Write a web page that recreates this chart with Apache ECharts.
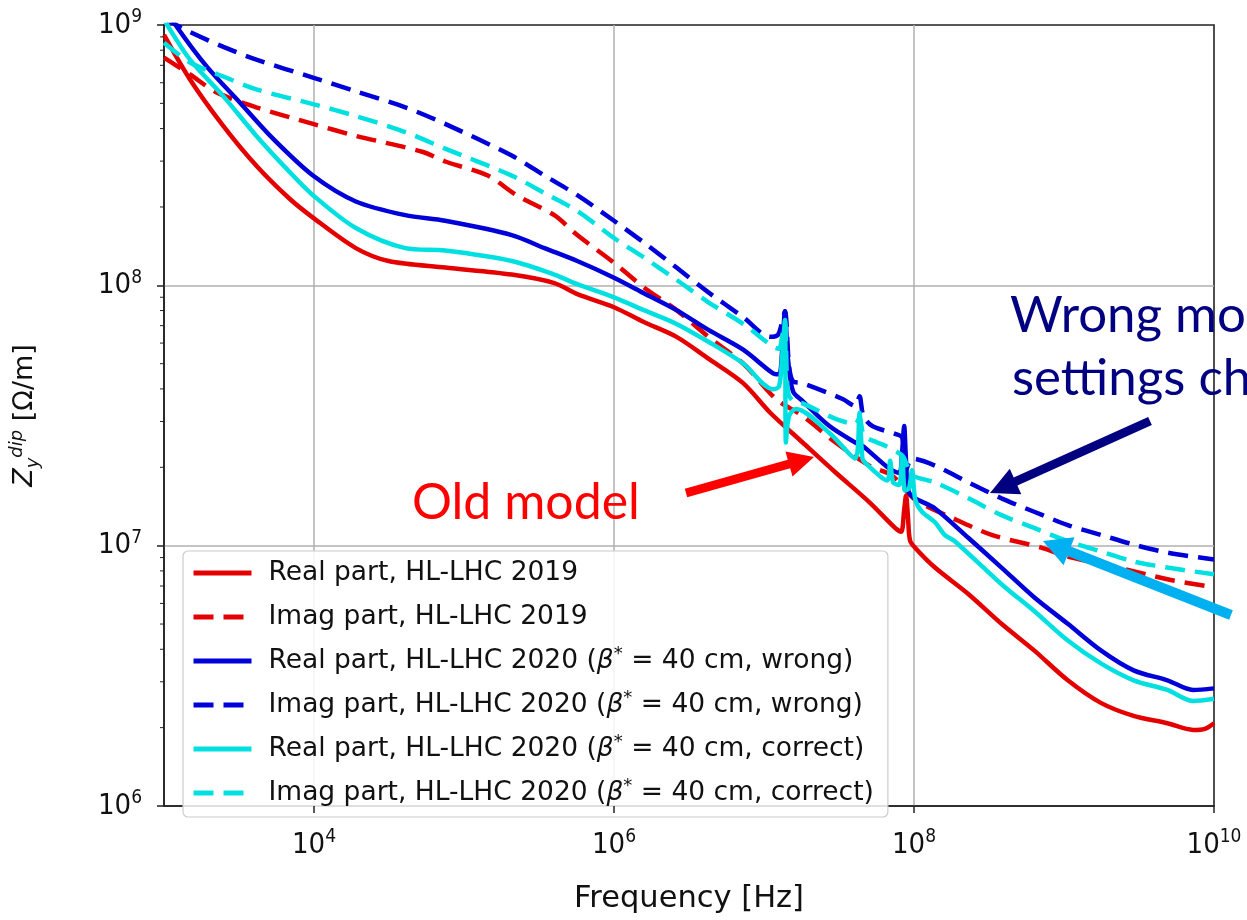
<!DOCTYPE html>
<html>
<head>
<meta charset="utf-8">
<script src="https://cdn.jsdelivr.net/npm/echarts/dist/echarts.min.js"></script>
<style>
  html, body { margin: 0; padding: 0; background: #fff; }
  #chart { width: 1247px; height: 920px; }
</style>
</head>
<body>
<div id="chart"></div>
<script>
  // dipolar impedance vs frequency, values as [frequency Hz, Z Ohm/m]
  const seriesNames = [
    'Real part, HL-LHC 2019',
    'Imag part, HL-LHC 2019',
    'Real part, HL-LHC 2020 (β* = 40 cm, wrong)',
    'Imag part, HL-LHC 2020 (β* = 40 cm, wrong)',
    'Real part, HL-LHC 2020 (β* = 40 cm, correct)',
    'Imag part, HL-LHC 2020 (β* = 40 cm, correct)'
  ];
  const seriesColors = ['#e50000', '#e50000', '#0000d8', '#0000d8', '#00e0e0', '#00e0e0'];

  const realOld = [
    [1.0e3, 9.16e8], [1.49e3, 6.18e8], [2.49e3, 4.09e8], [4.13e3, 2.88e8], [6.82e3, 2.16e8],
    [9.84e3, 1.82e8], [1.9e4, 1.39e8], [3.14e4, 1.24e8], [7.5e4, 1.17e8], [2.08e5, 1.10e8],
    [4.0e5, 1.02e8], [5.7e5, 9.25e7], [1.0e6, 8.24e7], [1.58e6, 7.23e7], [2.61e6, 6.34e7],
    [4.26e6, 5.23e7], [7.26e6, 4.21e7], [1.1e7, 3.24e7], [1.81e7, 2.49e7], [3.0e7, 1.91e7],
    [5.03e7, 1.47e7], [7.48e7, 1.17e7], [8.2e7, 1.13e7], [8.6e7, 1.37e7], [8.85e7, 1.56e7],
    [9.1e7, 1.31e7], [9.4e7, 1.05e7], [1.02e8, 9.8e6], [1.38e8, 8.24e6], [2.31e8, 6.51e6],
    [3.83e8, 5.01e6], [6.32e8, 3.96e6], [1.06e9, 3.04e6], [1.76e9, 2.49e6], [2.91e9, 2.22e6],
    [4.89e9, 2.08e6], [7.26e9, 1.96e6], [8.7e9, 1.98e6], [1.0e10, 2.08e6]
  ];
  const imagOld = [
    [1.0e3, 7.5e8], [1.49e3, 6.46e8], [2.24e3, 5.51e8], [4.13e3, 4.83e8], [9.84e3, 4.17e8],
    [1.9e4, 3.75e8], [5.27e4, 3.26e8], [7.5e4, 2.99e8], [1.44e5, 2.64e8], [2.24e5, 2.22e8],
    [4.0e5, 1.86e8], [5.69e5, 1.56e8], [1.0e6, 1.22e8], [1.58e6, 9.82e7], [2.61e6, 8.03e7],
    [4.26e6, 6.34e7], [7.26e6, 5.01e7], [1.2e7, 3.66e7], [1.81e7, 3.15e7], [3.0e7, 2.49e7],
    [5.03e7, 2.03e7], [7.14e7, 1.86e7], [1.02e8, 1.5e7], [1.79e8, 1.28e7], [3.29e8, 1.1e7],
    [7.05e8, 9.83e6], [1.06e9, 9.08e6], [2.28e9, 8.24e6], [4.89e9, 7.43e6], [1.0e10, 6.92e6]
  ];
  const realWrong = [
    [1.0e3, 1.19e9], [1.22e3, 9.83e8], [1.93e3, 6.92e8], [3.19e3, 5.05e8], [5.35e3, 3.65e8],
    [9.84e3, 2.64e8], [1.9e4, 2.1e8], [4.06e4, 1.86e8], [7.48e4, 1.77e8], [2.08e5, 1.56e8],
    [3.44e5, 1.39e8], [5.69e5, 1.24e8], [1.0e6, 1.07e8], [1.58e6, 9.33e7], [2.61e6, 8.03e7],
    [4.26e6, 6.74e7], [7.26e6, 5.66e7], [1.15e7, 4.59e7], [1.26e7, 4.55e7], [1.32e7, 5.56e7],
    [1.38e7, 7.96e7], [1.44e7, 5.32e7], [1.56e7, 3.92e7], [1.81e7, 3.59e7], [2.73e7, 2.88e7],
    [4.06e7, 2.49e7], [4.53e7, 2.42e7], [6.82e7, 1.98e7], [7.96e7, 1.9e7], [8.34e7, 2.32e7],
    [8.6e7, 2.88e7], [8.85e7, 2.12e7], [9.26e7, 1.6e7], [1.38e8, 1.39e7], [2.31e8, 1.07e7],
    [3.83e8, 8.24e6], [6.32e8, 6.34e6], [1.06e9, 5.01e6], [1.76e9, 3.96e6], [2.91e9, 3.32e6],
    [4.89e9, 3.04e6], [7.26e9, 2.79e6], [1.0e10, 2.83e6]
  ];
  const imagWrong = [
    [1.0e3, 1.06e9], [1.49e3, 9.4e8], [2.49e3, 8.24e8], [4.13e3, 7.36e8], [9.84e3, 6.28e8],
    [1.9e4, 5.56e8], [4.06e4, 4.83e8], [7.48e4, 4.17e8], [2.08e5, 3.15e8], [3.44e5, 2.64e8],
    [5.69e5, 2.22e8], [1.0e6, 1.77e8], [1.58e6, 1.46e8], [2.61e6, 1.17e8], [4.26e6, 9.4e7],
    [7.26e6, 7.55e7], [1.1e7, 6.34e7], [1.24e7, 6.46e7], [1.32e7, 7.23e7], [1.38e7, 7.96e7],
    [1.47e7, 4.88e7], [1.56e7, 4.28e7], [1.81e7, 4.21e7], [3.34e7, 3.66e7], [4.06e7, 3.44e7],
    [4.33e7, 3.75e7], [4.6e7, 3.15e7], [5.27e7, 2.88e7], [7.48e7, 2.69e7], [8.34e7, 2.6e7],
    [8.85e7, 1.95e7], [9.7e7, 2.16e7], [1.38e8, 2.03e7], [2.31e8, 1.75e7], [3.83e8, 1.52e7],
    [6.32e8, 1.35e7], [1.06e9, 1.2e7], [1.76e9, 1.1e7], [2.91e9, 1.01e7], [4.89e9, 9.4e6],
    [1.0e10, 8.85e6]
  ];
  const realCorrect = [
    [1.0e3, 1.06e9], [1.05e3, 1.0e9], [1.49e3, 7.36e8], [2.49e3, 5.32e8], [4.13e3, 3.75e8],
    [6.82e3, 2.74e8], [9.84e3, 2.22e8], [1.9e4, 1.66e8], [4.06e4, 1.39e8], [7.48e4, 1.36e8],
    [2.08e5, 1.24e8], [4.0e5, 1.1e8], [5.69e5, 1.01e8], [1.0e6, 8.99e7], [1.58e6, 8.03e7],
    [2.61e6, 7.11e7], [4.26e6, 6.07e7], [7.26e6, 5.01e7], [1.15e7, 3.99e7], [1.26e7, 4.09e7],
    [1.32e7, 5.32e7], [1.38e7, 7.36e7], [1.4e7, 2.49e7], [1.47e7, 3.15e7], [1.63e7, 3.35e7],
    [2.73e7, 2.71e7], [4.06e7, 2.16e7], [4.33e7, 3.24e7], [4.53e7, 2.16e7], [4.74e7, 2.08e7],
    [6.62e7, 1.78e7], [6.93e7, 2.12e7], [7.26e7, 1.75e7], [7.96e7, 1.71e7], [8.34e7, 2.22e7],
    [8.71e7, 1.63e7], [9.26e7, 1.66e7], [9.7e7, 1.95e7], [1.02e8, 1.5e7], [1.13e8, 1.35e7],
    [1.38e8, 1.23e7], [1.6e8, 1.1e7], [1.87e8, 1.04e7], [3.83e8, 7.11e6], [6.32e8, 5.61e6],
    [1.06e9, 4.32e6], [1.76e9, 3.53e6], [2.91e9, 3.04e6], [4.89e9, 2.79e6], [7.26e9, 2.53e6],
    [1.0e10, 2.58e6]
  ];
  const imagCorrect = [
    [1.0e3, 8.55e8], [1.49e3, 7.18e8], [2.49e3, 6.34e8], [4.13e3, 5.66e8], [9.84e3, 4.97e8],
    [1.9e4, 4.47e8], [4.06e4, 3.88e8], [7.48e4, 3.35e8], [2.08e5, 2.64e8], [3.44e5, 2.26e8],
    [5.69e5, 1.93e8], [1.0e6, 1.52e8], [1.58e6, 1.28e8], [2.61e6, 1.05e8], [4.26e6, 8.61e7],
    [7.26e6, 7.11e7], [1.15e7, 5.81e7], [1.26e7, 5.71e7], [1.32e7, 6.34e7], [1.38e7, 7.23e7],
    [1.44e7, 3.92e7], [1.56e7, 3.59e7], [1.81e7, 3.52e7], [3.0e7, 3.07e7], [4.06e7, 2.94e7],
    [4.33e7, 3.09e7], [4.67e7, 2.64e7], [6.43e7, 2.42e7], [8.34e7, 2.22e7], [9.0e7, 2.03e7],
    [9.7e7, 1.86e7], [1.38e8, 1.75e7], [2.31e8, 1.52e7], [3.83e8, 1.31e7], [6.32e8, 1.17e7],
    [1.06e9, 1.04e7], [1.76e9, 9.5e6], [2.91e9, 8.69e6], [4.89e9, 8.24e6], [1.0e10, 7.76e6]
  ];
  const curves = [realOld, imagOld, realWrong, imagWrong, realCorrect, imagCorrect];

  // axis ticks
  const xTicks = [1e4, 1e6, 1e8, 1e10];
  const yDecades = [1e6, 1e7, 1e8];
  const yMinorSteps = [2, 3, 4, 5, 6, 7, 8, 9];

  const FONT = 'DejaVu Sans';
  const TICKFONT = '"DejaVu Sans Condensed", "DejaVu Sans"';
  let chart = echarts.init(document.getElementById('chart'));

  function powLabel(v) {
    let e = Math.round(Math.log10(v));
    return '{b|10}{s|' + e + '}';
  }

  function arrow(x0, y0, x1, y1, w, hl, hw, color) {
    let dx = x1 - x0, dy = y1 - y0, len = Math.hypot(dx, dy);
    let ux = dx / len, uy = dy / len, nx = -uy, ny = ux;
    let bx = x1 - ux * hl, by = y1 - uy * hl;
    return {
      type: 'polygon', z: 100,
      shape: {
        points: [
          [x0 + nx * w / 2, y0 + ny * w / 2],
          [bx + nx * w / 2, by + ny * w / 2],
          [bx + nx * hw / 2, by + ny * hw / 2],
          [x1, y1],
          [bx - nx * hw / 2, by - ny * hw / 2],
          [bx - nx * w / 2, by - ny * w / 2],
          [x0 - nx * w / 2, y0 - ny * w / 2]
        ]
      },
      style: { fill: color }
    };
  }

  let lineSeries = curves.map((d, i) => ({
    name: seriesNames[i],
    type: 'line',
    data: d,
    symbol: 'none',
    smooth: 0.3,
    clip: true,
    color: seriesColors[i],
    lineStyle: {
      color: seriesColors[i],
      width: 4.5,
      type: i % 2 ? [20, 10] : 'solid',
      cap: 'butt'
    }
  }));

  let yMinor = [];
  yDecades.forEach(d => yMinorSteps.forEach(s => yMinor.push([1e3, d * s])));

  let tickRich = {
    b: { fontFamily: TICKFONT, fontSize: 29, color: '#111', lineHeight: 34 },
    s: { fontFamily: TICKFONT, fontSize: 19, color: '#111', verticalAlign: 'top', lineHeight: 15 }
  };

  chart.setOption({
    animation: false,
    grid: {
      left: 157, right: 33, top: 25, bottom: 106,
      show: true, borderColor: '#222', borderWidth: 1.6, backgroundColor: '#fff'
    },
    legend: {
      data: seriesNames,
      orient: 'vertical',
      left: 183, top: 551,
      padding: [6, 14, 8, 8],
      itemGap: 12,
      itemWidth: 58,
      itemHeight: 14,
      backgroundColor: 'rgba(255,255,255,0.85)',
      borderColor: '#cccccc',
      borderWidth: 1.2,
      borderRadius: 5,
      itemStyle: { opacity: 0 },
      lineStyle: { width: 5 },
      formatter: name => name.replace('β*', '{i|β}{sup|*}'),
      textStyle: {
        fontFamily: FONT, fontSize: 26.5, color: '#111', lineHeight: 32,
        padding: [0, 0, 0, 12],
        rich: {
          i: { fontFamily: FONT, fontSize: 26.5, fontStyle: 'italic', color: '#111', lineHeight: 32 },
          sup: { fontFamily: FONT, fontSize: 18, color: '#111', verticalAlign: 'top', lineHeight: 16 }
        }
      }
    },
    xAxis: {
      type: 'log', logBase: 10, min: 1e3, max: 1e10, interval: 1,
      name: 'Frequency [Hz]', nameLocation: 'middle', nameGap: 78,
      nameTextStyle: { fontFamily: FONT, fontSize: 30.5, color: '#111' },
      axisLine: { show: true, lineStyle: { color: '#222', width: 1.6 } },
      axisTick: { show: false },
      axisLabel: {
        margin: 22,
        formatter: v => (Math.round(Math.log10(v)) % 2 ? '' : powLabel(v)),
        rich: tickRich
      },
      splitLine: {
        show: true, showMinLine: false, showMaxLine: false,
        lineStyle: { color: ['#b0b0b0', 'rgba(0,0,0,0)'], width: 1.5 }
      }
    },
    yAxis: {
      type: 'log', logBase: 10, min: 1e6, max: 1e9, interval: 1,
      name: '{z|Z}{sub|y}{sup|dip} [Ω/m]', nameLocation: 'middle', nameGap: 122, nameRotate: 90,
      nameTextStyle: {
        fontFamily: FONT, fontSize: 27, color: '#111',
        rich: {
          z: { fontFamily: FONT, fontSize: 27, fontStyle: 'italic', color: '#111', lineHeight: 34 },
          sub: { fontFamily: FONT, fontSize: 18, fontStyle: 'italic', color: '#111', verticalAlign: 'bottom', lineHeight: 18 },
          sup: { fontFamily: FONT, fontSize: 18, fontStyle: 'italic', color: '#111', verticalAlign: 'top', lineHeight: 18 }
        }
      },
      axisLine: { show: true, lineStyle: { color: '#222', width: 1.6 } },
      axisTick: { show: true, length: 7, lineStyle: { color: '#222', width: 1.5 } },
      axisLabel: {
        margin: 22,
        formatter: powLabel,
        rich: tickRich
      },
      splitLine: {
        show: true, showMinLine: false, showMaxLine: false,
        lineStyle: { color: '#b0b0b0', width: 1.5 }
      }
    },
    series: lineSeries.concat([
      {
        type: 'custom', name: 'xticks', silent: true, clip: false, z: 5,
        data: xTicks.map(v => [v, 1e6]),
        renderItem: (params, api) => {
          let p = api.coord([api.value(0), api.value(1)]);
          return { type: 'line', shape: { x1: p[0], y1: p[1], x2: p[0], y2: p[1] + 7 },
                   style: { stroke: '#222', lineWidth: 1.5 } };
        }
      },
      {
        type: 'custom', name: 'yminor', silent: true, clip: false, z: 5,
        data: yMinor,
        renderItem: (params, api) => {
          let p = api.coord([api.value(0), api.value(1)]);
          return { type: 'line', shape: { x1: p[0] - 4, y1: p[1], x2: p[0], y2: p[1] },
                   style: { stroke: '#222', lineWidth: 1 } };
        }
      }
    ]),
    graphic: [
      arrow(686, 493, 814, 457, 9, 26, 26, '#ff0000'),
      arrow(1150, 421, 990, 493, 9, 28, 28, '#000080'),
      arrow(1231, 615, 1043, 541, 10, 28, 30, '#00b0f0'),
      { type: 'text', z: 100, style: { x: 412, y: 503, text: 'Old model', fill: '#ff0000',
        font: '50px Lato', verticalAlign: 'middle' } },
      { type: 'text', z: 100, style: { x: 1010, y: 316, text: 'Wrong model', fill: '#000080',
        font: '51px Lato', verticalAlign: 'middle' } },
      { type: 'text', z: 100, style: { x: 1012, y: 379, text: 'settings changed', fill: '#000080',
        font: '51px Lato', verticalAlign: 'middle' } }
    ]
  });
</script>
</body>
</html>
